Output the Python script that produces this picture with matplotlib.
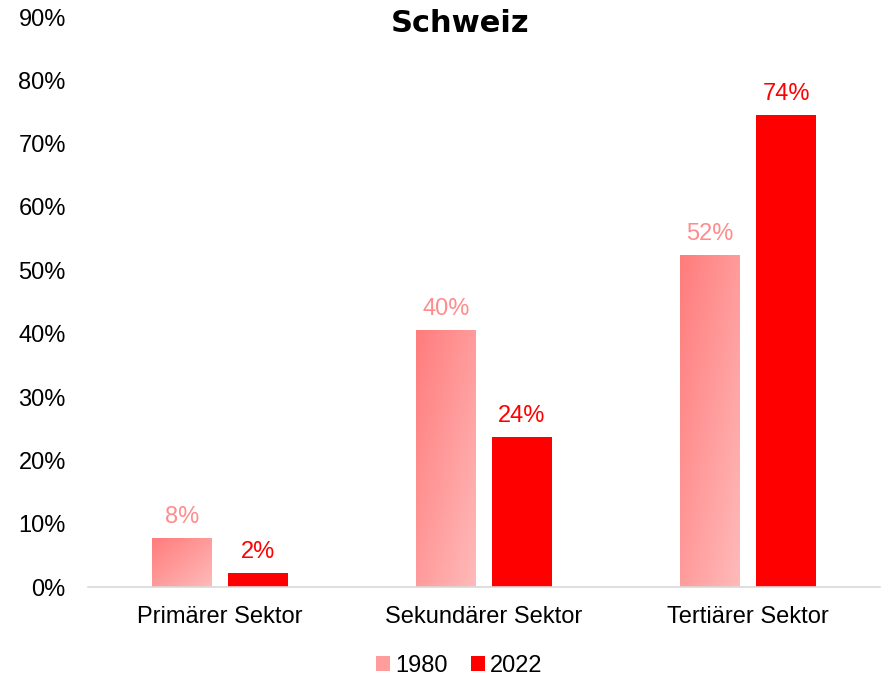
import matplotlib.pyplot as plt
import numpy as np
from matplotlib.colors import LinearSegmentedColormap
from matplotlib.patches import Patch

plt.rcParams['font.family'] = ['Liberation Sans', 'DejaVu Sans']

sektoren = ['Primärer Sektor', 'Sekundärer Sektor', 'Tertiärer Sektor']
werte_1980 = [7.7, 40.6, 52.4]
werte_2022 = [2.2, 23.7, 74.5]
labels_1980 = ['8%', '40%', '52%']
labels_2022 = ['2%', '24%', '74%']
jahre = ['1980', '2022']

fig = plt.figure(figsize=(8.83, 6.77), dpi=100)
ax = fig.add_axes([88/883, 90/677, 792/883, 570/677])

x = np.arange(len(sektoren))
breite = 0.227
versatz = 0.144

# Verlauf für 1980 (oben links dunkler, unten rechts heller)
cmap = LinearSegmentedColormap.from_list('verlauf', ['#ff7c7c', '#ffbaba'])
gy, gx = np.mgrid[0:1:100j, 0:1:100j]
grad = (gx + (1 - gy)) / 2

bars1 = ax.bar(x - versatz, werte_1980, breite, color='none', edgecolor='none')
for b in bars1:
    x0, y0 = b.get_x(), b.get_y()
    w, h = b.get_width(), b.get_height()
    im = ax.imshow(grad, cmap=cmap, extent=[x0, x0 + w, y0, y0 + h],
                   origin='lower', aspect='auto', zorder=2)
    im.set_clip_path(b)
bars2 = ax.bar(x + versatz, werte_2022, breite, color='#ff0000', zorder=2)

for i in range(len(sektoren)):
    ax.text(x[i] - versatz, werte_1980[i] + 1.6, labels_1980[i], ha='center', va='bottom',
            fontsize=17, color='#ff8c8c')
    ax.text(x[i] + versatz, werte_2022[i] + 1.6, labels_2022[i], ha='center', va='bottom',
            fontsize=17, color='#ff0000')

ax.set_xlim(-0.5, 2.5)
ax.set_ylim(0, 90)
ax.set_yticks(np.arange(0, 91, 10))
ax.set_yticklabels([f'{v}%' for v in range(0, 91, 10)], fontsize=17)
ax.set_xticks(x)
ax.set_xticklabels(sektoren, fontsize=17)
ax.tick_params(axis='both', length=0)
ax.tick_params(axis='x', pad=14)
ax.tick_params(axis='y', pad=16)
for s in ['top', 'right', 'left']:
    ax.spines[s].set_visible(False)
ax.spines['bottom'].set_color('#d9d9d9')
ax.spines['bottom'].set_linewidth(1.2)

fig.text(0.521, 0.966, 'Schweiz', ha='center', va='center', fontsize=22,
         fontweight='bold', family='DejaVu Sans')

handles = [Patch(facecolor='#ff9c9c'), Patch(facecolor='#ff0000')]
fig.legend(handles, jahre, loc='center', bbox_to_anchor=(0.52, 0.016), ncol=2, frameon=False,
           fontsize=17, handlelength=0.6, handleheight=0.6, handletextpad=0.2, columnspacing=1.0)

fig.savefig('out.png', dpi=100)
